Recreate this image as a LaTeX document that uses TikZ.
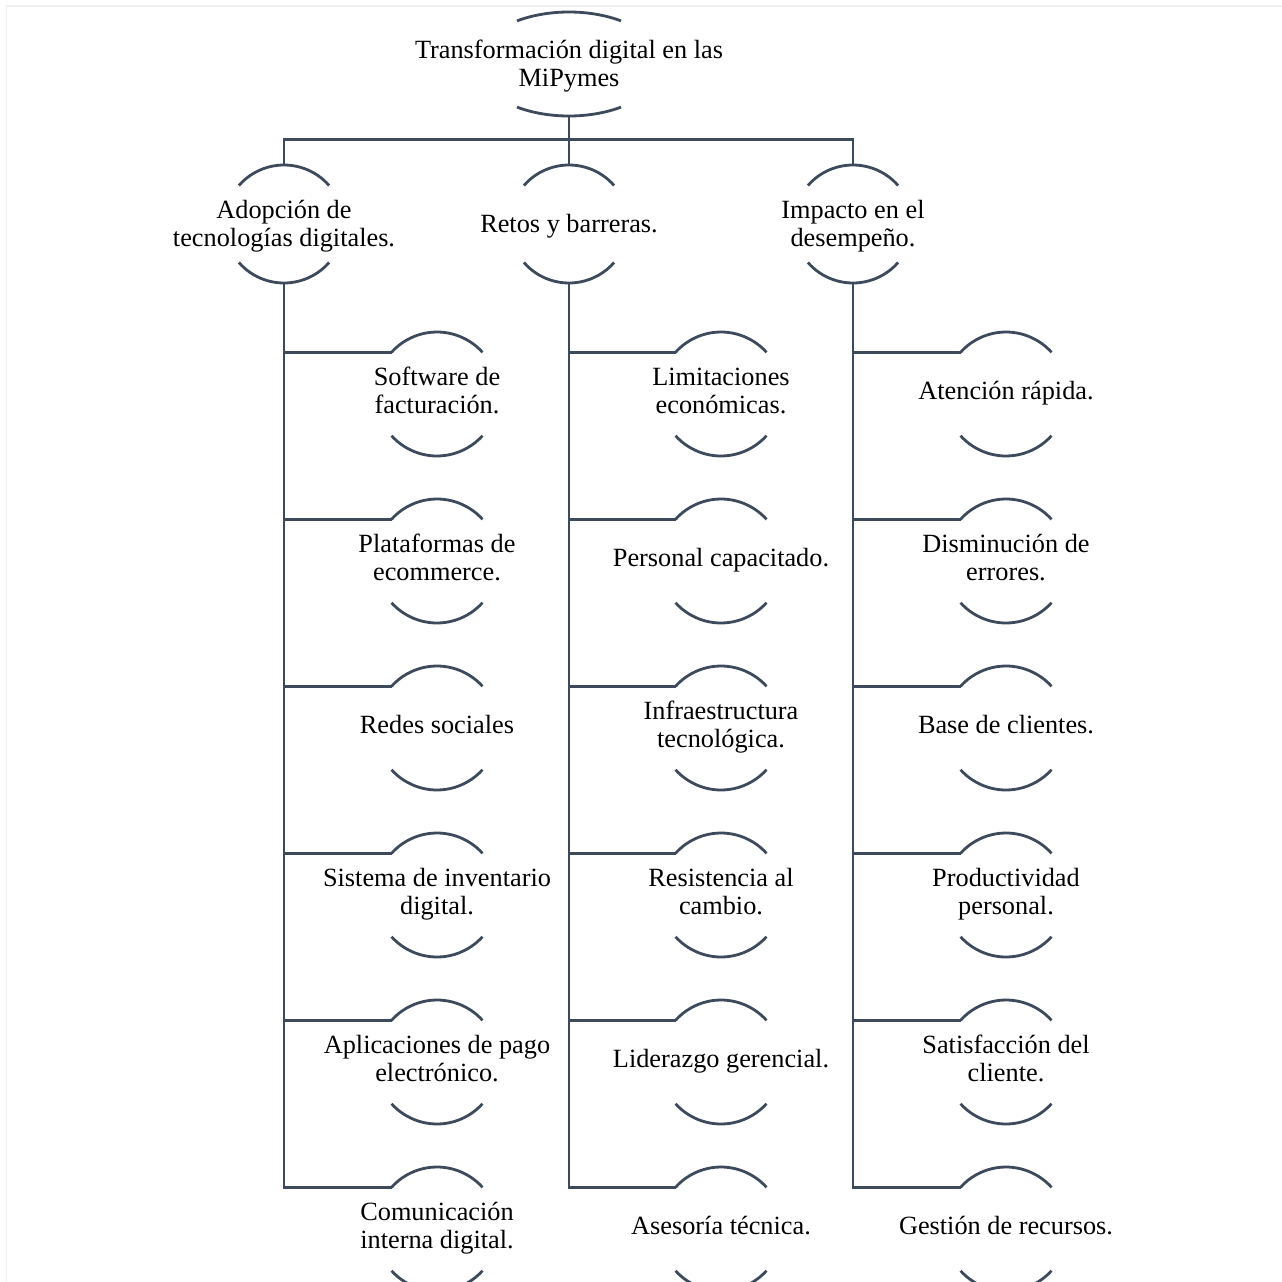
\documentclass[tikz,border=0pt]{standalone}
\usepackage{fontspec}
\setmainfont{Liberation Serif}
\usetikzlibrary{calc}
\definecolor{ink}{HTML}{3D4A5C}
\definecolor{frame}{HTML}{EFEFEF}
\newcommand{\hs}{\rule{0pt}{20pt}}
\newcommand{\ds}{\rule[-7pt]{0pt}{7pt}}
\tikzset{
  arcline/.style={draw=ink, line width=2.8pt},
  link/.style={draw=ink, line width=2.8pt},
  lbl/.style={inner sep=0pt, align=center, text=black, font=\fontsize{26.3}{28}\selectfont},
}
% name, x, y, x radius, y radius, end angle, text offset, text
\newcommand{\mmshape}[8]{%
  \coordinate (#1-c) at (#2,#3);
  \node[lbl] (#1) at ($(#1-c)+(0,#7)$) {\hs #8\ds};
  \draw[arcline] (#1-c) ++({#6}:{#4} and {#5}) arc[start angle={#6}, end angle={180-#6}, x radius={#4}, y radius={#5}];
  \draw[arcline] (#1-c) ++({180+#6}:{#4} and {#5}) arc[start angle={180+#6}, end angle={360-#6}, x radius={#4}, y radius={#5}];
  \coordinate (#1-t) at ($(#1-c)+(0,#5)$);
  \coordinate (#1-b) at ($(#1-c)+(0,-#5)$);
  \coordinate (#1-l) at ($(#1-c)+({180-#6}:{#4} and {#5})$);
}
\newcommand{\leafshape}[4]{\mmshape{#1}{#2}{#3}{61.5}{62}{42.3}{1}{#4}}
\begin{document}
\begin{tikzpicture}[x=1pt,y=1pt]
\useasboundingbox (0,0) rectangle (1282,-1282);
\draw[frame, line width=1.6pt] (6.5,-1282) -- (6.5,-5.7) -- (1282,-5.7);

% root
\mmshape{root}{569}{-64}{93}{52}{56}{-1.5}{Transformación digital en las\\MiPymes}
% level 1
\mmshape{a}{284}{-224}{59.5}{59}{40.7}{-1.5}{Adopción de\\tecnologías digitales.}
\mmshape{b}{569}{-224}{59.5}{59}{40.7}{-1.5}{Retos y barreras.}
\mmshape{c}{853}{-224}{59.5}{59}{40.7}{-1.5}{Impacto en el\\desempeño.}
% level 2, column a
\leafshape{a1}{437}{-394}{Software de\\facturación.}
\leafshape{a2}{437}{-561}{Plataformas de\\ecommerce.}
\leafshape{a3}{437}{-728}{Redes sociales}
\leafshape{a4}{437}{-895}{Sistema de inventario\\digital.}
\leafshape{a5}{437}{-1062}{Aplicaciones de pago\\electrónico.}
\leafshape{a6}{437}{-1229}{Comunicación\\interna digital.}
% column b
\leafshape{b1}{721}{-394}{Limitaciones\\económicas.}
\leafshape{b2}{721}{-561}{Personal capacitado.}
\leafshape{b3}{721}{-728}{Infraestructura\\tecnológica.}
\leafshape{b4}{721}{-895}{Resistencia al\\cambio.}
\leafshape{b5}{721}{-1062}{Liderazgo gerencial.}
\leafshape{b6}{721}{-1229}{Asesoría técnica.}
% column c
\leafshape{c1}{1006}{-394}{Atención rápida.}
\leafshape{c2}{1006}{-561}{Disminución de\\errores.}
\leafshape{c3}{1006}{-728}{Base de clientes.}
\leafshape{c4}{1006}{-895}{Productividad\\personal.}
\leafshape{c5}{1006}{-1062}{Satisfacción del\\cliente.}
\leafshape{c6}{1006}{-1229}{Gestión de recursos.}

% connectors
\coordinate (bar) at (0,-139.5);
\draw[link] (root-b) -- (root-b |- bar) -| (a-t);
\draw[link] (root-b) -- (root-b |- bar) -| (c-t);
\draw[link] (root-b) -- (b-t);
\foreach \p in {a,b,c}{
  \foreach \i in {1,...,6}{
    \draw[link] (\p-b) |- (\p\i-l);
  }
}
\end{tikzpicture}
\end{document}
